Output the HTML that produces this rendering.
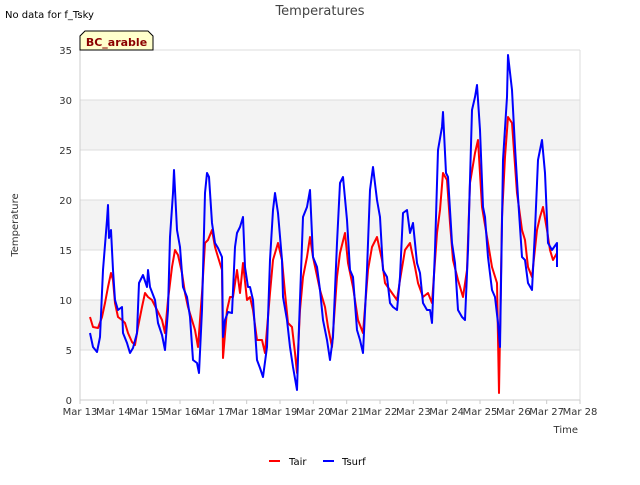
<!DOCTYPE html>
<html><head><meta charset="utf-8"><style>
body{margin:0;background:#fff;font-family:"Liberation Sans","DejaVu Sans",sans-serif}
svg text{font-family:"DejaVu Sans","Liberation Sans",sans-serif}
</style></head><body>
<svg id="c" width="640" height="480" xmlns="http://www.w3.org/2000/svg">
<rect width="640" height="480" fill="#fff"/>
<g id="bands"></g>
<g id="grid"></g>
<g id="axes"></g>
<g id="series"></g>
<text x="5" y="18" font-size="10" fill="#000">No data for f_Tsky</text>
<text x="320" y="15" font-size="13" fill="#444" text-anchor="middle">Temperatures</text>
<g>
<path d="M80,50 L80,36 L85,31 L148,31 L153,36 L153,50 Z" fill="#ffffcc" stroke="#000" stroke-width="1"/>
<text x="116.5" y="46" font-size="11" font-weight="bold" fill="#8b0000" text-anchor="middle">BC_arable</text>
</g>
<text transform="translate(18,225) rotate(-90)" font-size="10" text-anchor="middle" fill="#333">Temperature</text>
<text x="578" y="433" font-size="10" text-anchor="end" fill="#333">Time</text>
<g>
<g><line x1="269" y1="461" x2="280" y2="461" stroke="#ff0000" stroke-width="2"/><text x="289" y="465" font-size="10" fill="#000">Tair</text></g>
<g><line x1="323" y1="461" x2="334" y2="461" stroke="#0000ff" stroke-width="2"/><text x="342" y="465" font-size="10" fill="#000">Tsurf</text></g>
</g>
</svg>
<script>
const xTickLabels=["Mar 13","Mar 14","Mar 15","Mar 16","Mar 17","Mar 18","Mar 19","Mar 20","Mar 21","Mar 22","Mar 23","Mar 24","Mar 25","Mar 26","Mar 27","Mar 28"];
const yTicks=[0,5,10,15,20,25,30,35];
const tsurfDays=[0.30,0.39,0.51,0.60,0.69,0.81,0.84,0.87,0.93,0.99,1.05,1.14,1.26,1.29,1.41,1.50,1.59,1.71,1.77,1.89,2.01,2.04,2.10,2.25,2.34,2.46,2.55,2.64,2.70,2.79,2.82,2.91,3.00,3.09,3.21,3.30,3.39,3.51,3.57,3.66,3.75,3.81,3.87,3.96,4.05,4.14,4.26,4.29,4.35,4.44,4.56,4.65,4.71,4.80,4.89,4.95,5.04,5.10,5.19,5.31,5.40,5.49,5.61,5.70,5.79,5.85,5.94,6.06,6.09,6.21,6.30,6.39,6.51,6.57,6.69,6.81,6.90,6.99,7.11,7.20,7.29,7.41,7.50,7.59,7.71,7.80,7.89,8.01,8.10,8.19,8.31,8.40,8.49,8.61,8.70,8.79,8.91,9.00,9.09,9.21,9.30,9.39,9.51,9.60,9.69,9.81,9.90,9.99,10.11,10.20,10.29,10.41,10.50,10.56,10.65,10.74,10.86,10.89,10.98,11.04,11.16,11.25,11.34,11.46,11.55,11.64,11.76,11.85,11.91,12.00,12.09,12.15,12.24,12.36,12.45,12.54,12.60,12.69,12.81,12.84,12.96,13.05,13.14,13.26,13.35,13.44,13.56,13.65,13.74,13.86,13.95,14.04,14.16,14.31,14.31];
const tsurfValues=[6.7,5.3,4.8,6.3,13,18,19.5,16.2,17,13,10,9,9.3,6.7,5.7,4.7,5.2,6.7,11.7,12.5,11.3,13,11.3,10,7.7,6.5,5,9,16.3,20.7,23,17,15.3,11.3,10.3,8.3,4,3.7,2.7,9,20.7,22.7,22.3,17.7,15.7,15.2,14.3,6.3,8,8.8,8.7,15.3,16.7,17.3,18.3,13.3,11.3,11.3,10,4,3.2,2.3,5.3,14,19,20.7,18.7,14,10.3,8,5.3,3.3,1,7.3,18.3,19.3,21,14.3,13.3,11,8,6,4,6.3,15.7,21.7,22.3,18,13,12.3,7,6,4.7,13,21,23.3,20,18.3,13,12.3,9.7,9.3,9,12.3,18.7,19,16.7,17.7,13.7,12.7,9.7,9,9,7.7,15,25,27.3,28.8,22.7,22.3,15.7,13.7,9,8.3,8,15,29,30.3,31.5,27,19.3,18.3,14.3,11,10.3,7.7,5.3,24,30.3,34.5,31,25.3,20.3,14.3,14,11.7,11,17,24,26,22.7,15.7,15,15.7,13.3];
const tairDays=[0.30,0.39,0.54,0.66,0.75,0.84,0.93,0.99,1.05,1.14,1.26,1.35,1.44,1.56,1.65,1.74,1.86,1.95,2.04,2.16,2.31,2.46,2.55,2.64,2.76,2.85,2.94,3.06,3.15,3.24,3.36,3.45,3.54,3.66,3.75,3.84,3.96,4.05,4.14,4.26,4.29,4.41,4.50,4.59,4.71,4.80,4.89,5.01,5.10,5.19,5.31,5.46,5.55,5.70,5.79,5.94,6.06,6.15,6.24,6.36,6.45,6.51,6.60,6.69,6.81,6.90,6.99,7.20,7.35,7.44,7.56,7.71,7.80,7.95,8.04,8.19,8.34,8.49,8.64,8.76,8.91,9.06,9.15,9.36,9.51,9.60,9.75,9.90,10.05,10.14,10.29,10.44,10.56,10.71,10.80,10.89,11.01,11.10,11.19,11.34,11.49,11.61,11.70,11.85,11.94,12.06,12.21,12.36,12.51,12.57,12.66,12.75,12.84,12.96,13.11,13.26,13.35,13.44,13.56,13.71,13.80,13.89,14.01,14.10,14.19,14.31];
const tairValues=[8.3,7.3,7.2,8.3,9.7,11.3,12.7,12,9.7,8.3,8,7.7,6.7,5.8,5.5,7.3,9.3,10.7,10.3,10,9,8,6.7,10,13.3,15,14.5,12.7,10.7,9.3,8,7,5.3,10.7,15.7,16,17,15.3,14.3,13,4.2,9,10.3,10.3,13,10.7,13.7,10,10.3,9,6,6,4.7,10.7,14,15.7,14,10.7,7.7,7.3,4.7,2.7,9,12.3,14.3,16.3,14.3,11,9.3,7.3,5.3,12.3,14.7,16.7,13.7,11.3,8,6.7,13,15.3,16.3,14,11.7,10.7,10,12,15,15.7,13.3,11.7,10.3,10.7,9.7,16.7,19,22.7,22,17.7,14,12,10.3,13,21.7,24.7,26,19.3,16.3,13.3,11.7,0.7,18.3,24.3,28.3,27.7,20.7,17,16,13.3,12.3,17,18.3,19.3,17,15,14,14.7];

const NS="http://www.w3.org/2000/svg";
const X0=80,X1=580,Y0=400,Y1=50;
const xs=d=>X0+d*(X1-X0)/15;
const ys=v=>Y0-v*(Y0-Y1)/35;
function mk(tag,attrs,parent){const e=document.createElementNS(NS,tag);for(const k in attrs)e.setAttribute(k,attrs[k]);parent.appendChild(e);return e;}
const bands=document.getElementById('bands'),grid=document.getElementById('grid'),axes=document.getElementById('axes'),series=document.getElementById('series');
mk('rect',{x:X0,y:Y1,width:X1-X0,height:Y0-Y1,fill:'#fff'},bands);
for(let i=0;i<yTicks.length-1;i++){if(i%2===1){const r=mk('rect',{x:X0,y:ys(yTicks[i+1]),width:X1-X0,height:ys(yTicks[i])-ys(yTicks[i+1]),fill:'#f3f3f3'},bands);

}}
yTicks.forEach(v=>{const l=mk('line',{x1:X0,x2:X1,y1:ys(v),y2:ys(v),stroke:'#dcdcdc','stroke-width':1},grid);


const t=mk('text',{x:X0-8,y:ys(v)+4,'font-size':10,'text-anchor':'end',fill:'#333'},axes);t.textContent=v;

});
mk('line',{x1:X1,x2:X1,y1:Y1,y2:Y0,stroke:'#dcdcdc'},grid);
mk('line',{x1:X0,x2:X0,y1:Y1,y2:Y0,stroke:'#ccc'},axes);
mk('line',{x1:X0,x2:X1,y1:Y0,y2:Y0,stroke:'#ccc'},axes);
xTickLabels.forEach((s,i)=>{mk('line',{x1:xs(i),x2:xs(i),y1:Y0,y2:Y0+4,stroke:'#ccc'},axes);
const t=mk('text',{x:xs(i),y:Y0+15,'font-size':10,'text-anchor':'middle',fill:'#333'},axes);t.textContent=s;

});
function line(days,vals,color,name){const d=days.map((t,i)=>(i?'L':'M')+xs(t).toFixed(1)+','+ys(vals[i]).toFixed(1)).join(' ');
const p=mk('path',{d:d,fill:'none',stroke:color,'stroke-width':2,'stroke-linejoin':'round'},series);

}
line(tairDays,tairValues,'#ff0000','tair-line');
line(tsurfDays,tsurfValues,'#0000ff','tsurf-line');
</script>
</body></html>
